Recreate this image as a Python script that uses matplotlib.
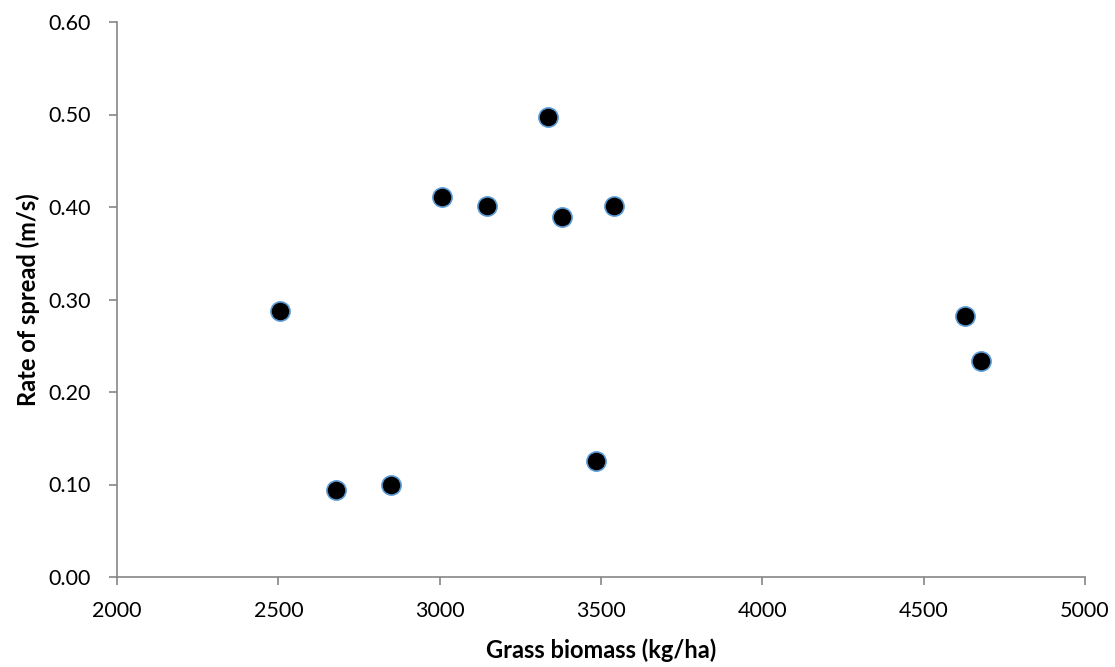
import matplotlib
matplotlib.use("Agg")
import matplotlib.pyplot as plt

# Fire behaviour observations
grass_biomass = [2505, 2679, 2849, 3008, 3148, 3335, 3378, 3540, 3484, 4629, 4678]
rate_of_spread = [0.288, 0.094, 0.100, 0.411, 0.401, 0.497, 0.389, 0.401, 0.125, 0.282, 0.234]

x_ticks = [2000, 2500, 3000, 3500, 4000, 4500, 5000]
y_ticks = [0.0, 0.1, 0.2, 0.3, 0.4, 0.5, 0.6]

plt.rcParams["font.family"] = ["Lato", "DejaVu Sans"]

fig = plt.figure(figsize=(11.15, 6.67), dpi=100)
ax = fig.add_axes([117 / 1115, 1 - 577 / 667, (1085 - 117) / 1115, (577 - 22) / 667])

ax.scatter(grass_biomass, rate_of_spread, s=190, c="black",
           edgecolors="#5B9BD5", linewidths=1.2, zorder=3, clip_on=False)

ax.set_xlim(2000, 5000)
ax.set_ylim(0, 0.6)
ax.set_xticks(x_ticks)
ax.set_yticks(y_ticks)
ax.set_yticklabels([f"{v:.2f}" for v in y_ticks])

axis_grey = "#868686"
for side in ("top", "right"):
    ax.spines[side].set_visible(False)
for side in ("left", "bottom"):
    ax.spines[side].set_color(axis_grey)
    ax.spines[side].set_linewidth(1.2)

ax.tick_params(axis="both", direction="out", length=6, width=1.2,
               color=axis_grey, labelsize=15.5, labelcolor="black")
ax.tick_params(axis="x", pad=11)
ax.tick_params(axis="y", pad=13)

ax.set_xlabel("Grass biomass (kg/ha)", fontsize=17, fontweight="bold", labelpad=13)
ax.set_ylabel("Rate of spread (m/s)", fontsize=17, fontweight="bold", labelpad=6)

fig.savefig("out.png", dpi=100, facecolor="white")
